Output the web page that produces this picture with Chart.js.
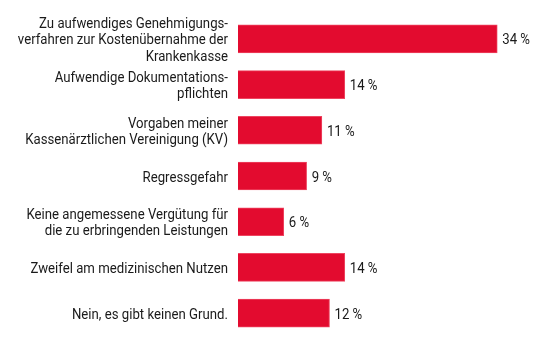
<!DOCTYPE html>
<html>
<head>
<meta charset="utf-8">
<script src="https://cdn.jsdelivr.net/npm/chart.js@4"></script>
<style>
  html, body { margin: 0; padding: 0; background: #fff; }
</style>
</head>
<body>
<canvas id="myChart" width="550" height="352"></canvas>
<script>
const categories = [
  ['Zu aufwendiges Genehmigungs-', 'verfahren zur Kostenübernahme der', 'Krankenkasse'],
  ['Aufwendige Dokumentations-', 'pflichten'],
  ['Vorgaben meiner', 'Kassenärztlichen Vereinigung (KV)'],
  ['Regressgefahr'],
  ['Keine angemessene Vergütung für', 'die zu erbringenden Leistungen'],
  ['Zweifel am medizinischen Nutzen'],
  ['Nein, es gibt keinen Grund.']
];
const values = [34, 14, 11, 9, 6, 14, 12];

const FONT = "15px Roboto, 'Liberation Sans', sans-serif";
const SQUEEZE = 0.88;   // condensed look
const LINE_H = 16.5;

// category labels + value labels, drawn condensed
const labelPlugin = {
  id: 'labelPlugin',
  afterDatasetsDraw(chart) {
    const ctx = chart.ctx;
    const yScale = chart.scales.y;
    const meta = chart.getDatasetMeta(0);
    ctx.save();
    ctx.font = FONT;
    ctx.fillStyle = '#1a1a1a';
    ctx.textBaseline = 'alphabetic';
    categories.forEach((lines, i) => {
      const cy = yScale.getPixelForValue(i);
      const right = chart.chartArea.left - 10;
      lines.forEach((line, j) => {
        const by = cy + 5.5 + (j - (lines.length - 1) / 2) * LINE_H;
        ctx.save();
        ctx.translate(right, by);
        ctx.scale(SQUEEZE, 1);
        ctx.textAlign = 'right';
        ctx.fillText(line, 0, 0);
        ctx.restore();
      });
    });
    meta.data.forEach((bar, i) => {
      ctx.save();
      ctx.translate(bar.x + 5, bar.y + 5.5);
      ctx.scale(SQUEEZE, 1);
      ctx.textAlign = 'left';
      ctx.fillText(values[i] + ' %', 0, 0);
      ctx.restore();
    });
    ctx.restore();
  }
};

const ctx = document.getElementById('myChart').getContext('2d');
const myChart = new Chart(ctx, {
  type: 'bar',
  data: {
    labels: categories.map(l => l.join(' ')),
    datasets: [{
      data: values,
      backgroundColor: '#E30B2F',
      borderColor: '#EE4560',
      borderWidth: 1,
      barThickness: 28
    }]
  },
  options: {
    indexAxis: 'y',
    responsive: false,
    animation: false,
    layout: { padding: { left: 238, right: 7, top: 16, bottom: 16 } },
    plugins: {
      legend: { display: false },
      tooltip: { enabled: false }
    },
    scales: {
      x: { display: false, min: 0, max: 40 },
      y: { display: false }
    }
  },
  plugins: [labelPlugin]
});
</script>
</body>
</html>
